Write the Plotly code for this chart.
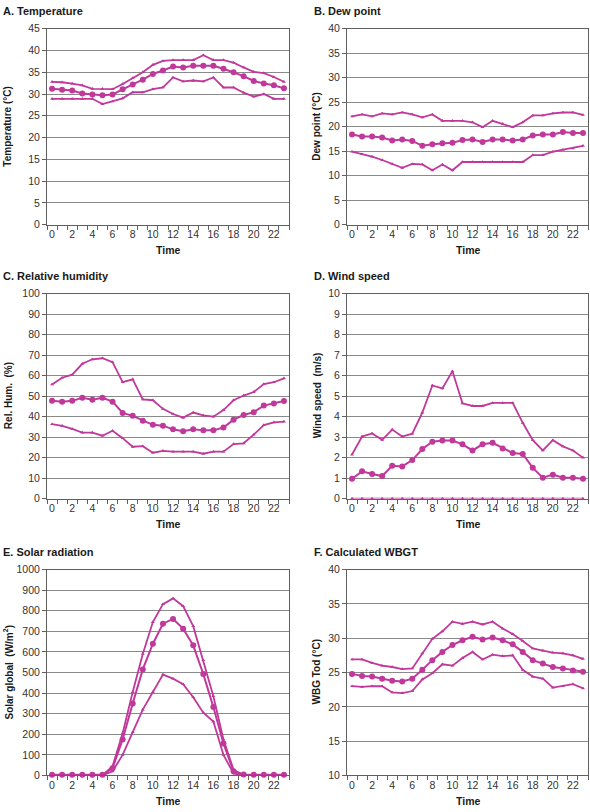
import plotly.graph_objects as go

hours = list(range(24))
x_tick_labels = [str(h) for h in range(0, 24, 2)]

# A. Temperature (°C)
temp_max = [32.8, 32.7, 32.4, 32.0, 31.2, 31.2, 31.1, 32.3, 33.7, 35.0, 36.7, 37.6,
            37.8, 37.8, 37.8, 38.9, 37.8, 37.8, 37.2, 36.1, 35.1, 34.8, 33.9, 32.8]
temp_mean = [31.2, 31.0, 30.8, 30.1, 29.9, 29.7, 29.9, 31.1, 32.2, 33.3, 34.6, 35.4,
             36.3, 36.1, 36.5, 36.5, 36.5, 35.8, 35.0, 34.1, 33.0, 32.4, 32.0, 31.3]
temp_min = [28.9, 28.9, 28.9, 28.9, 28.9, 27.7, 28.3, 29.0, 30.4, 30.4, 31.1, 31.5,
            33.8, 32.9, 33.1, 32.9, 33.8, 31.5, 31.5, 30.3, 29.4, 30.0, 28.9, 28.9]

# B. Dew point (°C)
dew_max = [22.1, 22.5, 22.1, 22.7, 22.5, 22.9, 22.5, 21.9, 22.5, 21.2, 21.2, 21.2,
           20.9, 19.9, 21.2, 20.6, 19.9, 20.9, 22.3, 22.3, 22.7, 22.9, 22.9, 22.4]
dew_mean = [18.4, 18.0, 18.0, 17.8, 17.2, 17.4, 17.1, 16.1, 16.4, 16.6, 16.7, 17.3,
            17.4, 16.9, 17.4, 17.4, 17.2, 17.4, 18.2, 18.4, 18.4, 18.9, 18.7, 18.7]
dew_min = [14.9, 14.4, 13.9, 13.2, 12.4, 11.6, 12.4, 12.3, 11.1, 12.3, 11.1, 12.8,
           12.8, 12.8, 12.8, 12.8, 12.8, 12.8, 14.2, 14.2, 14.9, 15.3, 15.6, 16.1]

# C. Relative humidity (%)
rh_max = [55.7, 59.0, 60.5, 65.8, 68.0, 68.5, 66.6, 56.8, 58.2, 48.4, 48.0, 43.8,
          41.3, 39.5, 42.0, 40.6, 40.0, 43.2, 48.0, 50.3, 52.0, 55.9, 56.8, 58.7]
rh_mean = [47.8, 47.3, 47.7, 49.2, 48.3, 49.2, 47.3, 41.8, 40.4, 38.0, 36.0, 35.6,
           33.8, 32.9, 33.8, 33.3, 33.3, 34.7, 38.5, 40.8, 42.2, 45.4, 46.4, 47.6]
rh_min = [36.3, 35.5, 34.0, 32.2, 32.2, 30.7, 33.1, 29.5, 25.3, 25.6, 22.4, 23.3,
          22.9, 22.9, 22.9, 21.9, 22.9, 22.9, 26.6, 27.0, 31.2, 35.9, 37.2, 37.6]

# D. Wind speed (m/s)
wind_max = [2.15, 3.03, 3.18, 2.87, 3.37, 3.03, 3.17, 4.2, 5.52, 5.38, 6.22, 4.65,
            4.52, 4.52, 4.67, 4.67, 4.67, 3.7, 2.85, 2.35, 2.85, 2.55, 2.35, 2.0]
wind_mean = [0.97, 1.33, 1.2, 1.1, 1.6, 1.57, 1.88, 2.42, 2.78, 2.83, 2.83, 2.65,
             2.35, 2.65, 2.72, 2.45, 2.22, 2.18, 1.5, 1.02, 1.17, 1.02, 1.02, 0.97]
wind_min = [0.0] * 24

# E. Solar radiation (W/m2)
solar_max = [0, 0, 0, 0, 0, 0, 45, 205, 405, 590, 745, 832,
             860, 822, 725, 560, 385, 175, 28, 2, 0, 0, 0, 0]
solar_mean = [3, 3, 3, 3, 3, 3, 35, 175, 350, 515, 640, 737,
              760, 713, 632, 493, 332, 155, 20, 5, 3, 3, 3, 3]
solar_min = [0, 0, 0, 0, 0, 0, 20, 100, 210, 320, 405, 490,
             470, 443, 380, 305, 262, 100, 10, 0, 0, 0, 0, 0]

# F. Calculated WBGT (°C)
wbgt_max = [26.9, 26.9, 26.4, 26.0, 25.8, 25.5, 25.6, 27.8, 29.9, 31.0, 32.4, 32.1,
            32.4, 32.0, 32.4, 31.4, 30.6, 29.6, 28.5, 28.2, 27.9, 27.8, 27.5, 27.0]
wbgt_mean = [24.8, 24.5, 24.4, 24.1, 23.8, 23.7, 24.1, 25.4, 26.8, 28.0, 29.0, 29.7,
             30.2, 29.8, 30.1, 29.7, 29.1, 28.0, 26.8, 26.3, 25.8, 25.6, 25.3, 25.1]
wbgt_min = [23.0, 22.9, 23.0, 23.0, 22.1, 22.0, 22.3, 24.0, 24.9, 26.2, 26.0, 27.1,
            28.0, 26.9, 27.6, 27.4, 27.5, 25.4, 24.4, 24.1, 22.8, 23.0, 23.3, 22.7]

panel_titles = ["A. Temperature", "B. Dew point", "C. Relative humidity",
                "D. Wind speed", "E. Solar radiation", "F. Calculated WBGT"]
y_titles = ["Temperature (°C)", "Dew point (°C)", "Rel. Hum.\u00a0\u00a0(%)",
            "Wind speed\u00a0\u00a0(m/s)", "Solar global\u00a0\u00a0(W/m<sup>2</sup>)", "WBG Tod (°C)"]
y_ranges = [(0, 45), (0, 40), (0, 100), (0, 10), (0, 1000), (10, 40)]
y_dticks = [5, 5, 10, 1, 100, 5]
series = [
    (temp_max, temp_mean, temp_min),
    (dew_max, dew_mean, dew_min),
    (rh_max, rh_mean, rh_min),
    (wind_max, wind_mean, wind_min),
    (solar_max, solar_mean, solar_min),
    (wbgt_max, wbgt_mean, wbgt_min),
]

W, H = 590, 812
COLOR = "#C0399A"
FONT = "Liberation Sans, Arial, sans-serif"
cols = [(47, 289), (347, 588)]
rows = [(23, 222), (292, 500), (572, 781)]
title_x = [1, 312]
ytitle_x = [8, 317]

fig = go.Figure()
annotations = []
layout = {}

for i in range(6):
    r, c = divmod(i, 2)
    x0, x1 = cols[c]
    y0, y1 = rows[r]
    suffix = "" if i == 0 else str(i + 1)
    xa, ya = "x" + suffix, "y" + suffix
    hi, mid, lo = series[i]
    for vals, sym, size, width in ((hi, "triangle-up", 3.5, 1.8), (lo, "triangle-up", 3.5, 1.8), (mid, "circle", 6, 2)):
        fig.add_trace(go.Scatter(
            x=hours, y=vals, xaxis=xa, yaxis=ya, mode="lines+markers",
            line=dict(color=COLOR, width=width),
            marker=dict(symbol=sym, size=size, color=COLOR),
            showlegend=False, cliponaxis=False))
    layout["xaxis" + suffix] = dict(
        domain=[x0 / W, x1 / W], anchor=ya, range=[-0.5, 23.5],
        tickmode="array", tickvals=list(range(0, 24, 2)), ticktext=x_tick_labels,
        ticks="", showgrid=False, zeroline=False,
        showline=True, linecolor="#606060", linewidth=1, mirror=True,
        tickfont=dict(family=FONT, size=10.5, color="#333333"),
        minor=dict(tickmode="linear", tick0=-0.5, dtick=1, ticks="outside",
                   ticklen=4, tickcolor="#606060", tickwidth=1, showgrid=False),
        fixedrange=True)
    layout["yaxis" + suffix] = dict(
        domain=[1 - y1 / H, 1 - y0 / H], anchor=xa, range=list(y_ranges[i]),
        dtick=y_dticks[i], tick0=y_ranges[i][0], ticks="outside", ticklen=4,
        tickcolor="#606060", showgrid=True, gridcolor="#8a8a8a", gridwidth=1,
        zeroline=False, showline=True, linecolor="#606060", linewidth=1, mirror=True,
        tickfont=dict(family=FONT, size=10.5, color="#333333"), fixedrange=True)
    # panel title
    annotations.append(dict(text="<b>%s</b>" % panel_titles[i], x=title_x[c] / W,
                            y=1 - (y0 - 18) / H, xref="paper", yref="paper",
                            xanchor="left", yanchor="middle", showarrow=False,
                            font=dict(family=FONT, size=11, color="#1a1a1a")))
    # y title
    annotations.append(dict(text="<b>%s</b>" % y_titles[i], x=ytitle_x[c] / W,
                            y=1 - (y0 + y1) / 2 / H, xref="paper", yref="paper",
                            xanchor="center", yanchor="middle", textangle=-90,
                            showarrow=False,
                            font=dict(family=FONT, size=10, color="#1a1a1a")))
    # x title
    annotations.append(dict(text="<b>Time</b>", x=(x0 + x1) / 2 / W,
                            y=1 - (y1 + 26) / H, xref="paper", yref="paper",
                            xanchor="center", yanchor="middle", showarrow=False,
                            font=dict(family=FONT, size=10.5, color="#1a1a1a")))

fig.update_layout(
    width=W, height=H, margin=dict(l=0, r=0, t=0, b=0),
    paper_bgcolor="white", plot_bgcolor="white",
    annotations=annotations, showlegend=False, **layout)

fig.write_html("out.html", config={"displayModeBar": False},
               post_script="document.body.style.margin='0px';document.body.style.overflow='hidden';")
